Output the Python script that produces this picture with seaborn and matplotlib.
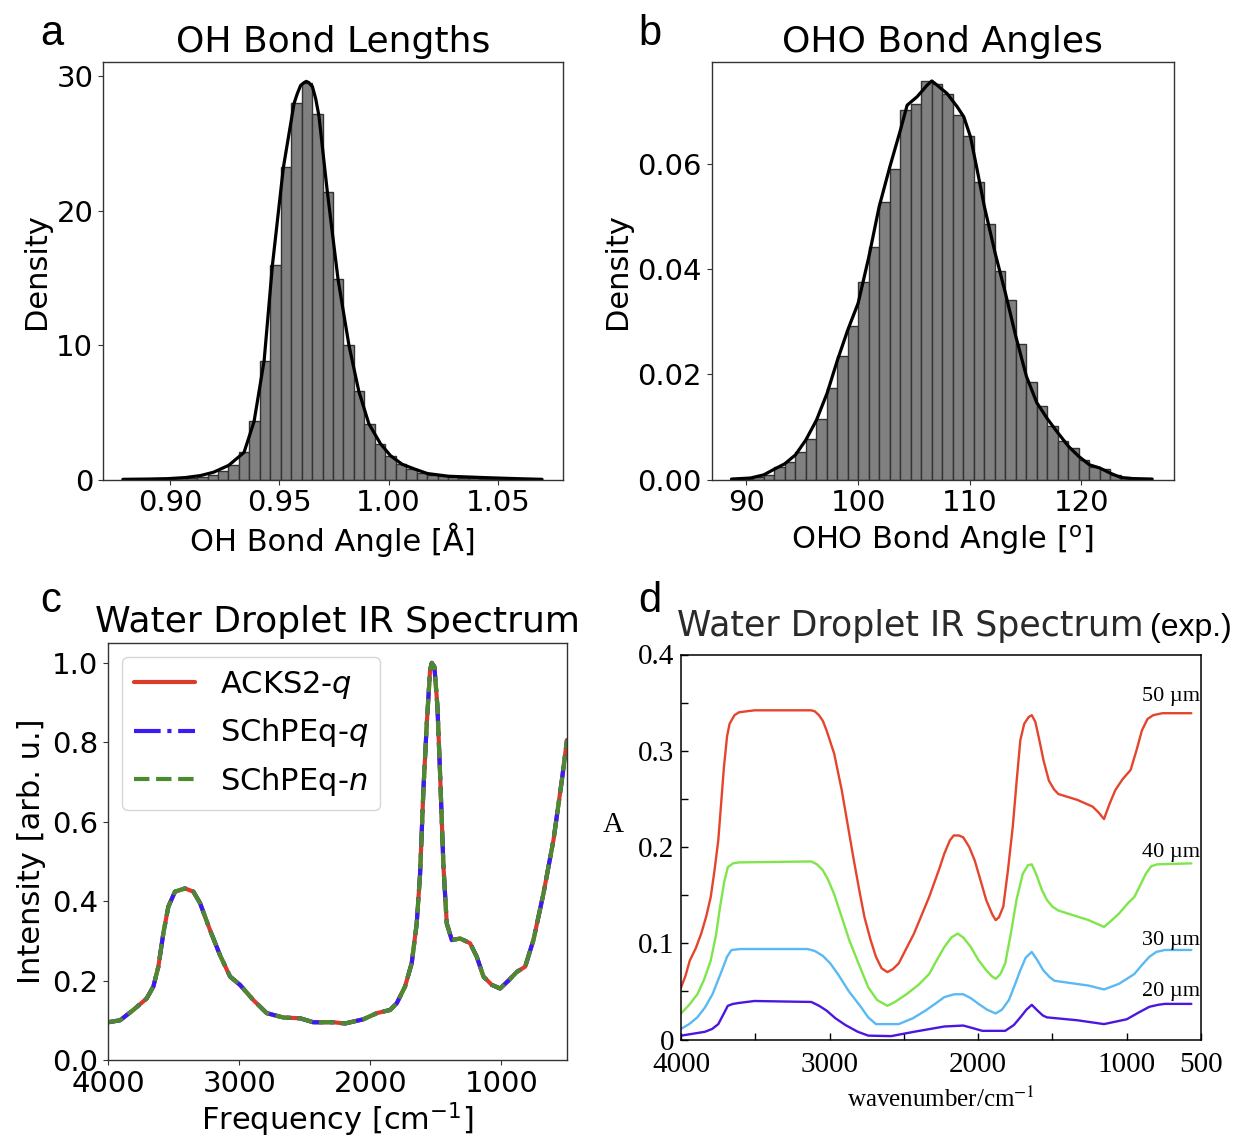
import numpy as np
import pandas as pd
import matplotlib
matplotlib.use("Agg")
import matplotlib.pyplot as plt
from matplotlib.ticker import FixedLocator, FixedFormatter
import seaborn as sns

# ---------------- data ----------------
# Panel a: OH bond length histogram (density per bin) + KDE curve
oh_bin_start = 0.8790
oh_bin_width = 0.00478
oh_density = [0.01, 0.02, 0.03, 0.05, 0.08, 0.11, 0.15, 0.22, 0.37, 0.62,
              1.11, 2.02, 4.32, 8.84, 15.95, 23.2, 27.97, 29.5, 27.2, 21.4,
              14.9, 9.98, 6.57, 4.15, 2.67, 1.78, 1.14, 0.77, 0.49, 0.35,
              0.25, 0.18, 0.13, 0.10, 0.08, 0.06, 0.05, 0.04, 0.02, 0.01]
oh_kde_x = [0.8785, 0.890, 0.899, 0.907, 0.914, 0.920, 0.9269, 0.9339, 0.9385,
            0.9431, 0.9469, 0.9519, 0.9568, 0.9583, 0.9598, 0.9613, 0.9624,
            0.9636, 0.9652, 0.9667, 0.9682, 0.9720, 0.9769, 0.9819, 0.9864,
            0.9910, 0.9963, 1.0009, 1.0062, 1.0120, 1.0178, 1.0274, 1.0436,
            1.0588, 1.0702]
oh_kde_y = [0.02, 0.04, 0.07, 0.15, 0.30, 0.55, 1.06, 2.02, 4.32, 8.84, 15.95,
            23.2, 27.97, 28.7, 29.3, 29.5, 29.6, 29.5, 29.2, 28.3, 27.0, 21.4,
            14.9, 9.98, 6.57, 4.15, 2.67, 1.78, 1.14, 0.78, 0.45, 0.25, 0.15,
            0.07, 0.02]

# Panel b: OHO bond angle histogram + KDE
oho_bin_start = 88.746
oho_bin_width = 0.9403
oho_density = [0.0001, 0.0002, 0.0004, 0.0009, 0.0023, 0.0033, 0.0053, 0.0077,
               0.0116, 0.0173, 0.0235, 0.0292, 0.0376, 0.0442, 0.0528, 0.0590,
               0.0702, 0.0713, 0.0756, 0.0751, 0.0732, 0.0692, 0.0653, 0.0565,
               0.0485, 0.0397, 0.0342, 0.0257, 0.0186, 0.0140, 0.0101, 0.0074,
               0.0060, 0.0037, 0.0023, 0.0020, 0.0009, 0.0004, 0.0002, 0.0001]
oho_kde_x = [88.66, 90.36, 91.55, 92.51, 93.43, 94.39, 95.31, 96.27, 97.22,
             98.15, 99.07, 100.0, 100.96, 101.88, 102.84, 103.79, 104.39,
             105.28, 106.18, 106.60, 107.07, 107.97, 108.87, 109.46, 110.06,
             110.66, 111.31, 112.27, 113.19, 114.12, 115.07, 116.0, 116.96,
             117.88, 118.84, 119.76, 120.72, 121.64, 122.60, 123.52, 124.48,
             126.33]
oho_kde_y = [0.0001, 0.0003, 0.0009, 0.0020, 0.0030, 0.0047, 0.0075, 0.0113,
             0.0164, 0.0227, 0.0284, 0.0335, 0.0423, 0.0518, 0.0594, 0.0664,
             0.0711, 0.0727, 0.0749, 0.0757, 0.0749, 0.0733, 0.0708, 0.0689,
             0.0651, 0.0588, 0.0518, 0.0430, 0.0354, 0.0272, 0.0196, 0.0146,
             0.0115, 0.0089, 0.0063, 0.0044, 0.0028, 0.0022, 0.0012, 0.0004,
             0.0002, 0.0001]

# Panel c: simulated IR spectrum (three models overlap)
sim_freq = [4000, 3908, 3807, 3705, 3654, 3616, 3578, 3540, 3489, 3413, 3349,
            3298, 3222, 3146, 3069, 2993, 2892, 2790, 2663, 2535, 2434, 2281,
            2192, 2053, 1950, 1849, 1798, 1735, 1684, 1646, 1620, 1595, 1569,
            1544, 1531, 1511, 1488, 1468, 1442, 1417, 1378, 1315, 1239, 1188,
            1137, 1073, 1010, 946, 882, 819, 756, 679, 603, 539, 500]
acks2_q = [0.095, 0.10, 0.126, 0.155, 0.185, 0.235, 0.319, 0.386, 0.424, 0.432,
           0.424, 0.395, 0.327, 0.264, 0.21, 0.189, 0.151, 0.118, 0.107, 0.105,
           0.095, 0.095, 0.092, 0.1025, 0.118, 0.126, 0.143, 0.185, 0.244,
           0.344, 0.47, 0.68, 0.848, 0.982, 1.0, 0.99, 0.89, 0.722, 0.487,
           0.344, 0.302, 0.306, 0.294, 0.26, 0.21, 0.189, 0.18, 0.2, 0.222,
           0.235, 0.302, 0.42, 0.554, 0.705, 0.806]
schpeq_q = list(acks2_q)
schpeq_n = list(acks2_q)
sim_labels = ["ACKS2-$q$", "SChPEq-$q$", "SChPEq-$n$"]

# Panel d: experimental spectra
exp_labels = ["50 µm", "40 µm", "30 µm", "20 µm"]
exp50_wn = [4000, 3970, 3941, 3900, 3864, 3830, 3800, 3775, 3749, 3730, 3711,
            3690, 3673, 3640, 3609, 3506, 3123, 3100, 3072, 3045, 3020, 2969,
            2918, 2880, 2841, 2800, 2765, 2725, 2688, 2650, 2611, 2575, 2535,
            2432, 2330, 2260, 2228, 2190, 2164, 2130, 2100, 2060, 2023, 1985,
            1946, 1905, 1882, 1860, 1831, 1800, 1767, 1740, 1716, 1690, 1660,
            1639, 1615, 1588, 1560, 1524, 1490, 1460, 1333, 1230, 1190, 1153,
            1115, 1077, 1030, 974, 935, 898, 860, 821, 760, 693, 565]
exp50_a = [0.054, 0.066, 0.082, 0.095, 0.110, 0.128, 0.148, 0.175, 0.207, 0.245,
           0.283, 0.315, 0.328, 0.337, 0.340, 0.342, 0.342, 0.341, 0.337, 0.331,
           0.321, 0.297, 0.259, 0.225, 0.190, 0.155, 0.127, 0.104, 0.086, 0.074,
           0.070, 0.073, 0.079, 0.110, 0.148, 0.178, 0.193, 0.207, 0.212, 0.212,
           0.210, 0.200, 0.186, 0.166, 0.145, 0.130, 0.124, 0.127, 0.138, 0.175,
           0.221, 0.270, 0.311, 0.328, 0.335, 0.337, 0.330, 0.311, 0.290, 0.269,
           0.260, 0.255, 0.249, 0.242, 0.236, 0.229, 0.245, 0.259, 0.270, 0.280,
           0.300, 0.321, 0.333, 0.337, 0.339, 0.339, 0.339]
exp40_wn = [4000, 3945, 3890, 3845, 3800, 3765, 3737, 3710, 3685, 3650, 3609,
            3123, 3085, 3046, 3010, 2969, 2920, 2867, 2800, 2739, 2680, 2611,
            2560, 2483, 2400, 2330, 2280, 2228, 2180, 2138, 2100, 2049, 2000,
            1946, 1910, 1882, 1850, 1818, 1780, 1742, 1700, 1665, 1639, 1610,
            1570, 1537, 1500, 1460, 1256, 1153, 1100, 1051, 990, 949, 910, 872,
            835, 795, 565]
exp40_a = [0.027, 0.036, 0.047, 0.062, 0.082, 0.108, 0.138, 0.163, 0.179, 0.183,
           0.184, 0.185, 0.182, 0.176, 0.166, 0.151, 0.128, 0.103, 0.077, 0.054,
           0.041, 0.035, 0.039, 0.047, 0.057, 0.068, 0.082, 0.096, 0.106, 0.110,
           0.106, 0.096, 0.083, 0.072, 0.066, 0.063, 0.068, 0.079, 0.110, 0.145,
           0.172, 0.181, 0.182, 0.172, 0.155, 0.145, 0.138, 0.134, 0.124, 0.117,
           0.124, 0.131, 0.142, 0.148, 0.160, 0.172, 0.180, 0.182, 0.183]
exp30_wn = [4000, 3945, 3890, 3840, 3788, 3755, 3724, 3690, 3660, 3600, 3148,
            3100, 3046, 2995, 2944, 2870, 2790, 2740, 2688, 2535, 2440, 2355,
            2290, 2228, 2160, 2100, 2050, 1997, 1940, 1882, 1840, 1793, 1750,
            1716, 1680, 1639, 1600, 1562, 1520, 1486, 1256, 1153, 1050, 949,
            900, 847, 800, 744, 565]
exp30_a = [0.011, 0.016, 0.023, 0.033, 0.047, 0.060, 0.072, 0.086, 0.093, 0.094,
           0.094, 0.092, 0.087, 0.079, 0.068, 0.050, 0.034, 0.023, 0.016, 0.016,
           0.022, 0.030, 0.037, 0.044, 0.047, 0.047, 0.043, 0.037, 0.031, 0.027,
           0.031, 0.041, 0.058, 0.072, 0.085, 0.091, 0.082, 0.072, 0.065, 0.061,
           0.056, 0.052, 0.058, 0.068, 0.077, 0.086, 0.091, 0.093, 0.093]
exp20_wn = [4000, 3839, 3790, 3749, 3715, 3685, 3650, 3609, 3506, 3123, 3070,
            3020, 2960, 2893, 2810, 2739, 2586, 2432, 2228, 2100, 2040, 1972,
            1818, 1760, 1716, 1675, 1639, 1600, 1565, 1537, 1333, 1153, 1000,
            920, 847, 790, 744, 565]
exp20_a = [0.004, 0.008, 0.011, 0.016, 0.026, 0.035, 0.037, 0.038, 0.040, 0.039,
           0.035, 0.030, 0.022, 0.015, 0.008, 0.004, 0.0035, 0.008, 0.0135,
           0.0145, 0.012, 0.009, 0.009, 0.015, 0.023, 0.031, 0.036, 0.030,
           0.025, 0.023, 0.020, 0.016, 0.021, 0.028, 0.034, 0.036, 0.037, 0.037]
exp_label_y = [0.352, 0.190, 0.098, 0.045]

# ---------------- style ----------------
sns.set_style("ticks")
plt.rcParams["font.family"] = ["DejaVu Sans"]
plt.rcParams["text.color"] = "black"
plt.rcParams["axes.labelcolor"] = "black"
plt.rcParams["axes.edgecolor"] = "#333333"
plt.rcParams["axes.linewidth"] = 1.0
plt.rcParams["xtick.color"] = "#333333"
plt.rcParams["ytick.color"] = "#333333"
plt.rcParams["xtick.labelcolor"] = "black"
plt.rcParams["ytick.labelcolor"] = "black"

TICK_FS = 21
LABEL_FS = 22
TITLE_FS = 26

fig = plt.figure(figsize=(12.37, 11.41), dpi=100)
W, H = 1237.0, 1141.0


def frac(left, top, right, bottom):
    return [left / W, 1 - bottom / H, (right - left) / W, (bottom - top) / H]


axA = fig.add_axes(frac(103, 62, 563, 479.6))
axB = fig.add_axes(frac(711.5, 62, 1173.5, 479.6))
axC = fig.add_axes(frac(108, 643, 567, 1060))
axD = fig.add_axes(frac(681, 654.5, 1201, 1039.5))


def hist_panel(ax, start, width, dens, kx, ky):
    nb = len(dens)
    centers = start + width * (np.arange(nb) + 0.5)
    df = pd.DataFrame({"value": centers, "density": dens})
    sns.histplot(data=df, x="value", weights="density", bins=nb,
                 binrange=(start, start + nb * width),
                 stat="count", color="#808080", alpha=1.0,
                 edgecolor="#333333", linewidth=1.0, ax=ax)
    sns.lineplot(x=kx, y=ky, color="black", linewidth=2.3, estimator=None,
                 sort=False, ax=ax)
    ax.tick_params(labelsize=TICK_FS)
    ax.set_ylabel("Density", fontsize=LABEL_FS, color="black")


# Panel a
hist_panel(axA, oh_bin_start, oh_bin_width, oh_density, oh_kde_x, oh_kde_y)
axA.set_xlim(0.8694, 1.0798)
axA.set_ylim(0, 31.04)
axA.set_xticks([0.90, 0.95, 1.00, 1.05])
axA.set_xticklabels(["0.90", "0.95", "1.00", "1.05"])
axA.set_yticks([0, 10, 20, 30])
axA.set_xlabel("OH Bond Angle [Å]", fontsize=LABEL_FS, color="black")
axA.set_title("OH Bond Lengths", fontsize=TITLE_FS, pad=7, color="black")

# Panel b
hist_panel(axB, oho_bin_start, oho_bin_width, oho_density, oho_kde_x, oho_kde_y)
axB.set_xlim(86.87, 128.24)
axB.set_ylim(0, 0.0793)
axB.set_xticks([90, 100, 110, 120])
axB.set_yticks([0.00, 0.02, 0.04, 0.06])
axB.set_yticklabels(["0.00", "0.02", "0.04", "0.06"])
axB.set_xlabel(r"OHO Bond Angle [$^{\mathrm{o}}$]", fontsize=LABEL_FS,
               color="black")
axB.set_title("OHO Bond Angles", fontsize=TITLE_FS, pad=7, color="black")

# Panel c
sim_series = [acks2_q, schpeq_q, schpeq_n]
sim_colors = ["#dc3b2a", "#3a1cf2", "#4c8a30"]
sim_styles = ["-", "-.", "--"]
for vals, lab, col, ls in zip(sim_series, sim_labels, sim_colors, sim_styles):
    sns.lineplot(x=sim_freq, y=vals, color=col, linestyle=ls, linewidth=3.0,
                 label=lab, estimator=None, sort=False, ax=axC)
axC.set_xlim(4000, 500)
axC.set_ylim(0, 1.05)
axC.set_xticks([4000, 3000, 2000, 1000])
axC.set_yticks([0.0, 0.2, 0.4, 0.6, 0.8, 1.0])
axC.set_yticklabels(["0.0", "0.2", "0.4", "0.6", "0.8", "1.0"])
axC.tick_params(labelsize=TICK_FS)
axC.set_xlabel(r"Frequency [cm$^{-1}$]", fontsize=LABEL_FS, labelpad=2,
               color="black")
axC.set_ylabel("Intensity [arb. u.]", fontsize=LABEL_FS, color="black")
axC.set_title("Water Droplet IR Spectrum", fontsize=TITLE_FS, pad=8,
              color="black")
leg = axC.legend(loc="upper left", fontsize=LABEL_FS, handlelength=2.0,
                 frameon=True, framealpha=0.8, edgecolor="#cccccc",
                 borderaxespad=0.45)
for t in leg.get_texts():
    t.set_color("black")

# Panel d
exp_wn = [exp50_wn, exp40_wn, exp30_wn, exp20_wn]
exp_a = [exp50_a, exp40_a, exp30_a, exp20_a]
exp_colors = ["#e4452c", "#7ee64a", "#5ab9f2", "#4b17e0"]
for wn, a, col in zip(exp_wn, exp_a, exp_colors):
    sns.lineplot(x=wn, y=a, color=col, linewidth=1.7, estimator=None,
                 sort=False, ax=axD)
for lab, ly in zip(exp_labels, exp_label_y):
    axD.text(505, ly, lab, ha="right", va="baseline", fontsize=16,
             family="Liberation Serif", color="black")
axD.set_xlim(4000, 500)
axD.set_ylim(0, 0.4)
for sp in axD.spines.values():
    sp.set_color("black")
    sp.set_linewidth(1.1)
axD.xaxis.set_major_locator(FixedLocator([4000, 3500, 3000, 2500, 2000, 1500, 1000, 500]))
axD.xaxis.set_major_formatter(FixedFormatter(["4000", "", "3000", "", "2000", "", "1000", "500"]))
axD.yaxis.set_major_locator(FixedLocator([0, 0.05, 0.1, 0.15, 0.2, 0.25, 0.3, 0.35, 0.4]))
axD.yaxis.set_major_formatter(FixedFormatter(["0", "", "0.1", "", "0.2", "", "0.3", "", "0.4"]))
axD.tick_params(direction="in", length=5, width=1, colors="black", pad=5,
                labelsize=21)
axD.tick_params(axis="x", pad=9)
for lbl in axD.get_xticklabels() + axD.get_yticklabels():
    lbl.set_family("Liberation Serif")
axD.set_xlabel(r"wavenumber/cm$^{-1}$", fontsize=18, family="Liberation Serif",
               math_fontfamily="stix", labelpad=6, color="black")
axD.set_ylabel("")
axD.text(-0.131, 0.558, "A", transform=axD.transAxes, fontsize=21,
         family="Liberation Serif", ha="center", va="center")
axD.text(-0.008, 1.049, "Water Droplet IR Spectrum", transform=axD.transAxes,
         fontsize=25, color="#2a2a2a", ha="left", va="baseline")
axD.text(0.901, 1.049, "(exp.)", transform=axD.transAxes, fontsize=23,
         family="Liberation Sans", color="black", ha="left", va="baseline")

# Panel letters
for letter, x, y in [("a", 40, 45), ("b", 638, 45), ("c", 40, 612), ("d", 638, 612)]:
    fig.text(x / W, 1 - y / H, letter, fontsize=30, family="Liberation Sans",
             ha="left", va="baseline", color="black")

fig.savefig("out.png", dpi=100, facecolor="white")
